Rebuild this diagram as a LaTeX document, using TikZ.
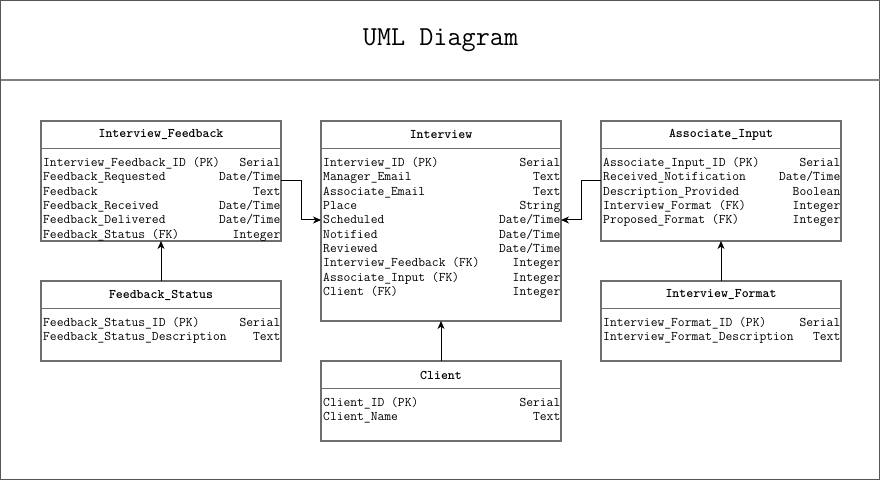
\documentclass[tikz,border=0pt]{standalone}
\usetikzlibrary{arrows.meta}
\definecolor{bordergray}{HTML}{6E6E6E}
\definecolor{framegray}{HTML}{555555}
\definecolor{divgray}{HTML}{808080}
\newcommand\dt{Date/Time}
\tikzset{
  umlbox/.style={draw=bordergray, line width=1.4pt, minimum width=240pt, minimum height=#1, anchor=north west, inner sep=0pt, outer sep=0pt},
  rowl/.style={anchor=mid west, inner sep=0pt, font=\fontsize{13.2}{15}\selectfont\ttfamily},
  rowr/.style={anchor=mid east, inner sep=0pt, font=\fontsize{13.2}{15}\selectfont\ttfamily},
  hdr/.style={inner sep=0pt, font=\fontsize{13.2}{15}\selectfont\ttfamily\bfseries},
  hdrline/.style={draw=bordergray, line width=1.4pt},
  conn/.style={draw=black, line width=1pt, -{Stealth[length=8pt,width=7pt,inset=2.5pt]}},
}
\newcommand\umlentity[6]{%
  \node[umlbox=#4] (#1) at (#2,#3) {};
  \draw[hdrline] (#2,#3+27.5) -- (#2+240,#3+27.5);
  \node[hdr] (#1-title) at (#2+120,#3+14) {#5};
  \foreach \l/\r [count=\i] in {#6} {
    \node[rowl] (#1-l\i) at (#2+2,#3+43.3+14.33*\i-14.33) {\l};
    \node[rowr] (#1-r\i) at (#2+239.5,#3+43.3+14.33*\i-14.33) {\r};
  }
}
\begin{document}
\begin{tikzpicture}[x=1pt,y=-1pt]
\useasboundingbox (0,0) rectangle (881,481);
\node[draw=framegray, line width=1.4pt, minimum width=879pt, minimum height=479pt, anchor=north west, inner sep=0pt, outer sep=0pt] (frame) at (0.7,0.7) {};
\draw[draw=divgray, line width=2pt] (0.7,80.5) -- (880.3,80.5);
\node[inner sep=0pt, font=\fontsize{27.4}{30}\selectfont\ttfamily] (title) at (440.5,40.5) {UML Diagram};

\umlentity{ifb}{41}{121}{120pt}{Interview\_Feedback}{%
  Interview\_Feedback\_ID (PK)/Serial,
  Feedback\_Requested/\dt,
  Feedback/Text,
  Feedback\_Received/\dt,
  Feedback\_Delivered/\dt,
  Feedback\_Status (FK)/Integer}

\umlentity{iv}{321}{121}{200pt}{Interview}{%
  Interview\_ID (PK)/Serial,
  Manager\_Email/Text,
  Associate\_Email/Text,
  Place/String,
  Scheduled/\dt,
  Notified/\dt,
  Reviewed/\dt,
  Interview\_Feedback (FK)/Integer,
  Associate\_Input (FK)/Integer,
  Client (FK)/Integer}

\umlentity{ai}{601}{121}{120pt}{Associate\_Input}{%
  Associate\_Input\_ID (PK)/Serial,
  Received\_Notification/\dt,
  Description\_Provided/Boolean,
  Interview\_Format (FK)/Integer,
  Proposed\_Format (FK)/Integer}

\umlentity{fs}{41}{281}{80pt}{Feedback\_Status}{%
  Feedback\_Status\_ID (PK)/Serial,
  Feedback\_Status\_Description/Text}

\umlentity{cl}{321}{361}{80pt}{Client}{%
  Client\_ID (PK)/Serial,
  Client\_Name/Text}

\umlentity{ifm}{601}{281}{80pt}{Interview\_Format}{%
  Interview\_Format\_ID (PK)/Serial,
  Interview\_Format\_Description/Text}

\coordinate (ifbout) at (281,180.7);
\coordinate (ivinL) at (321,220);
\coordinate (aiout) at (601,180.7);
\coordinate (ivinR) at (561,220);

\draw[conn] (fs.north) -- (ifb.south);
\draw[conn] (cl.north) -- (iv.south);
\draw[conn] (ifm.north) -- (ai.south);
\draw[conn] (ifbout) -- ++(20,0) |- (ivinL);
\draw[conn] (aiout) -- ++(-20,0) |- (ivinR);
\end{tikzpicture}
\end{document}
